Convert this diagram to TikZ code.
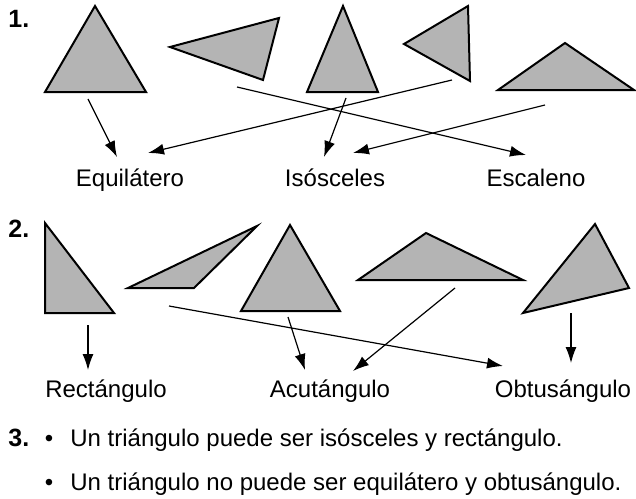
\documentclass[tikz,border=0pt]{standalone}
\usepackage{fontspec}
\setmainfont{Liberation Sans}
\usepackage{xcolor}
\usepackage{tikz}
\usetikzlibrary{arrows.meta,positioning}
\definecolor{trianglegray}{RGB}{180, 180, 180}

\tikzset{
    tri/.style={fill=trianglegray, draw=black, line width=1pt, line join=miter},
    link/.style={-{Latex[length=8pt,width=5.5pt]}, line width=0.6pt},
    kind/.style={anchor=base, inner sep=0pt, font=\fontsize{12}{14}\selectfont},
    itemno/.style={anchor=base west, inner sep=0pt, font=\fontsize{12.5}{14}\selectfont\bfseries},
    sentence/.style={anchor=base west, inner sep=0pt, font=\fontsize{12}{14}\selectfont}
}

\begin{document}
\begin{tikzpicture}[x=0.5pt, y=-0.5pt]
        \useasboundingbox (0,0) rectangle (636,498);

        % Part 1: triangles
        \node[itemno] (num1) at (8,27) {1.};
        \draw[tri] (95,6) -- (45,92) -- (146,92) -- cycle;
        \draw[tri] (170,47) -- (279,18) -- (263,80) -- cycle;
        \draw[tri] (343,6) -- (307,92) -- (378,92) -- cycle;
        \draw[tri] (404,44) -- (468,6) -- (470,81) -- cycle;
        \draw[tri] (498,90) -- (565,43) -- (634,90) -- cycle;

        % Part 1: classes
        \node[kind] (equi) at (130,186) {Equilátero};
        \node[kind] (isos) at (335,186) {Isósceles};
        \node[kind] (esca) at (536,186) {Escaleno};

        % Part 1: links
        \coordinate (p1a) at (88,99);   \coordinate (q1a) at (117,157);
        \coordinate (p1b) at (452,80);  \coordinate (q1b) at (148,153);
        \coordinate (p1c) at (237,87);  \coordinate (q1c) at (526,155);
        \coordinate (p1d) at (346,98);  \coordinate (q1d) at (324,157);
        \coordinate (p1e) at (545,105); \coordinate (q1e) at (353,153);
        \draw[link] (p1a) -- (q1a);
        \draw[link] (p1b) -- (q1b);
        \draw[link] (p1c) -- (q1c);
        \draw[link] (p1d) -- (q1d);
        \draw[link] (p1e) -- (q1e);

        % Part 2: triangles
        \node[itemno] (num2) at (8,237) {2.};
        \draw[tri] (45,223) -- (45,313) -- (114,313) -- cycle;
        \draw[tri] (128,288) -- (257,226) -- (194,288) -- cycle;
        \draw[tri] (290,225) -- (241,311) -- (340,311) -- cycle;
        \draw[tri] (358,280) -- (426,233) -- (523,280) -- cycle;
        \draw[tri] (523,313) -- (595,224) -- (629,288) -- cycle;

        % Part 2: classes
        \node[kind] (rect) at (106,397) {Rectángulo};
        \node[kind] (acut) at (330,397) {Acutángulo};
        \node[kind] (obtu) at (563,397) {Obtusángulo};

        % Part 2: links
        \coordinate (p2a) at (88,325);  \coordinate (q2a) at (88,370);
        \coordinate (p2b) at (169,306); \coordinate (q2b) at (503,366);
        \coordinate (p2c) at (288,317); \coordinate (q2c) at (305,370);
        \coordinate (p2d) at (455,288); \coordinate (q2d) at (353,371);
        \coordinate (p2e) at (571,313); \coordinate (q2e) at (571,363);
        \draw[link] (p2a) -- (q2a);
        \draw[link] (p2b) -- (q2b);
        \draw[link] (p2c) -- (q2c);
        \draw[link] (p2d) -- (q2d);
        \draw[link] (p2e) -- (q2e);

        % Part 3: statements
        \node[itemno] (num3) at (8,446) {3.};
        \node[kind] (dot1) at (49,446) {\textbullet};
        \node[kind] (dot2) at (49,490) {\textbullet};
        \node[sentence] (line1) at (70,446) {Un triángulo puede ser isósceles y rectángulo.};
        \node[sentence] (line2) at (70,490) {Un triángulo no puede ser equilátero y obtusángulo.};
    \end{tikzpicture}
\end{document}
